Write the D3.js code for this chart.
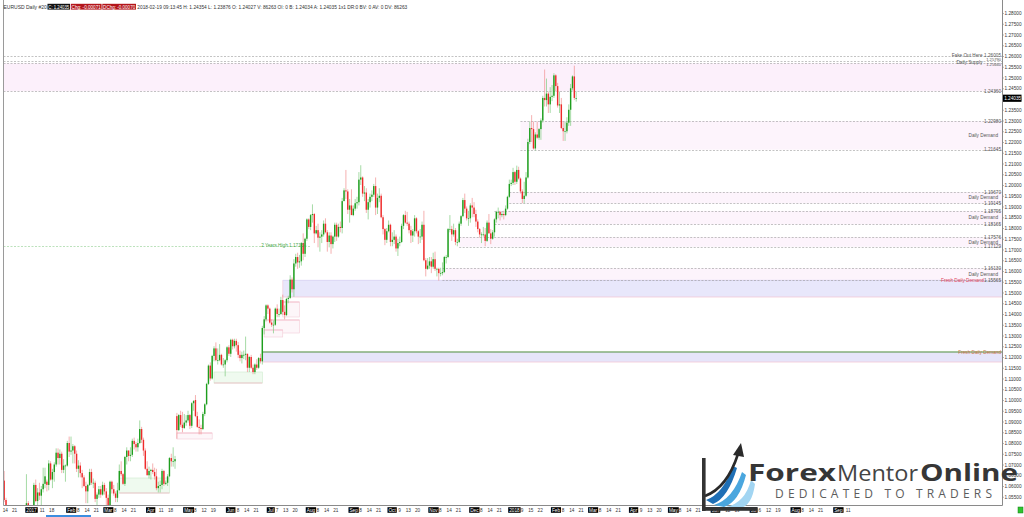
<!DOCTYPE html>
<html><head><meta charset="utf-8">
<script src="https://cdn.jsdelivr.net/npm/d3@7"></script>
<style>html,body{margin:0;padding:0;background:#fff;overflow:hidden}svg{display:block;font-family:"Liberation Sans",Arial,sans-serif}</style>
</head><body><svg id="c" width="1024" height="517"></svg>
<script>
// ---------- DATA ----------
const firstBarDate = "2016-12-13"; // daily bars, weekdays
const opens = [
1.0630,1.0625,1.0535,1.0410,1.0450,1.0400,1.0385,1.0425,1.0435,1.0455,1.0455,1.0450,1.0410,1.0490,
1.0520,1.0460,1.0400,1.0485,1.0605,1.0530,1.0570,1.0555,1.0585,1.0610,1.0620,1.0605,1.0705,1.0630,1.0665,1.0700,1.0755,1.0730,1.0750,1.0675,1.0695,1.0695,
1.0800,1.0760,1.0765,1.0785,1.0750,1.0680,1.0695,1.0660,1.0640,1.0600,1.0575,1.0605,1.0665,1.0615,1.0615,1.0540,1.0560,1.0585,1.0560,1.0605,
1.0575,1.0545,1.0505,1.0620,1.0585,1.0565,1.0545,1.0580,1.0670,1.0655,1.0610,1.0735,1.0765,1.0740,1.0745,1.0810,1.0795,1.0780,1.0800,1.0865,1.0815,1.0765,1.0680,
1.0650,1.0670,1.0675,1.0665,1.0645,1.0590,1.0600,1.0605,1.0670,1.0610,1.0615,1.0645,1.0730,1.0715,1.0715,1.0925,1.0860,1.0930,1.0885,1.0870,
1.0895,1.0905,1.0930,1.0880,1.0985,1.1000,1.0925,1.0875,1.0870,1.0865,1.0935,1.0980,1.1075,1.1160,1.1100,1.1205,1.1240,1.1185,1.1185,1.1210,1.1165,1.1165,1.1185,
1.1245,1.1215,1.1280,1.1250,1.1275,1.1255,1.1210,1.1195,1.1210,1.1210,1.1215,1.1150,1.1200,1.1150,1.1130,1.1165,1.1150,1.1195,1.1180,1.1335,1.1375,1.1440,
1.1425,1.1360,1.1350,1.1350,1.1425,1.1400,1.1400,1.1465,1.1410,1.1395,1.1470,1.1475,1.1560,1.1515,1.1635,1.1665,1.1640,1.1645,1.1730,1.1680,1.1750,
1.1840,1.1805,1.1860,1.1865,1.1775,1.1790,1.1755,1.1760,1.1770,1.1820,1.1780,1.1735,1.1765,1.1725,1.1760,1.1815,1.1760,1.1805,1.1800,1.1925,1.1975,1.1970,1.1885,
1.1905,1.1860,1.1890,1.1915,1.1920,1.2025,1.2035,1.1960,1.1965,1.1885,1.1920,1.1945,1.1955,1.1995,1.1895,1.1940,1.1950,1.1850,1.1795,1.1745,1.1785,
1.1815,1.1735,1.1745,1.1760,1.1705,1.1730,1.1735,1.1810,1.1860,1.1825,1.1820,1.1790,1.1765,1.1785,1.1845,1.1785,1.1760,1.1760,1.1815,1.1650,1.1610,1.1625,
1.1645,1.1620,1.1655,1.1610,1.1610,1.1590,1.1590,1.1595,1.1665,1.1665,1.1795,1.1795,1.1770,1.1790,1.1735,1.1735,1.1820,1.1855,1.1930,1.1890,1.1845,1.1845,
1.1905,1.1895,1.1865,1.1830,1.1795,1.1770,1.1770,1.1770,1.1740,1.1825,1.1775,1.1750,1.1780,1.1840,1.1875,1.1875,1.1860,1.1865,1.1860,1.1890,1.1945,
1.2005,1.2010,1.2060,1.2015,1.2070,1.2030,1.1970,1.1935,1.1950,1.2035,1.2200,1.2265,1.2260,1.2170,1.2235,1.2220,1.2260,1.2300,1.2405,1.2395,1.2425,1.2375,1.2410,
1.2415,1.2510,1.2460,1.2370,1.2375,1.2265,1.2250,1.2250,1.2290,1.2350,1.2450,1.2505,1.24027];
const highs = [
1.0650,1.0670,1.0545,1.0470,1.0460,1.0420,1.0440,1.0455,1.0465,1.0460,1.0470,1.0475,1.0500,1.0655,
1.0530,1.0485,1.0495,1.0615,1.0630,1.0590,1.0615,1.0600,1.0685,1.0685,1.0630,1.0720,1.0715,1.0680,1.0710,1.0775,1.0775,1.0770,1.0760,1.0725,1.0700,1.0810,
1.0830,1.0830,1.0795,1.0790,1.0765,1.0720,1.0710,1.0675,1.0650,1.0620,1.0610,1.0680,1.0680,1.0635,1.0625,1.0570,1.0600,1.0600,1.0620,1.0615,
1.0590,1.0560,1.0625,1.0625,1.0605,1.0575,1.0615,1.0700,1.0715,1.0660,1.0740,1.0780,1.0765,1.0780,1.0820,1.0825,1.0805,1.0820,1.0905,1.0875,1.0825,1.0775,1.0715,
1.0690,1.0680,1.0705,1.0685,1.0680,1.0620,1.0625,1.0680,1.0675,1.0625,1.0655,1.0735,1.0750,1.0780,1.0740,1.0940,1.0935,1.0950,1.0945,1.0935,
1.0930,1.0950,1.0935,1.0990,1.1000,1.1023,1.0945,1.0910,1.0885,1.0945,1.0985,1.1080,1.1165,1.1175,1.1210,1.1250,1.1268,1.1240,1.1260,1.1215,1.1195,1.1190,1.1250,
1.1255,1.1285,1.1285,1.1285,1.1285,1.1270,1.1230,1.1225,1.1230,1.1295,1.1215,1.1205,1.1210,1.1165,1.1170,1.1190,1.1200,1.1215,1.1345,1.1390,1.1445,1.1445,
1.1430,1.1375,1.1370,1.1430,1.1445,1.1425,1.1480,1.1490,1.1440,1.1475,1.1485,1.1580,1.1570,1.1655,1.1680,1.1685,1.1675,1.1735,1.1775,1.1755,1.1845,
1.1845,1.1865,1.1910,1.1870,1.1810,1.1820,1.1780,1.1790,1.1835,1.1845,1.1790,1.1780,1.1780,1.1765,1.1825,1.1825,1.1820,1.1830,1.1940,1.1985,1.2070,1.1980,1.1935,
1.1980,1.1905,1.1935,1.1945,1.2060,1.2092,1.2040,1.1995,1.1985,1.1935,1.1960,1.1975,1.2005,1.2035,1.1960,1.1985,1.1960,1.1860,1.1800,1.1800,1.1835,
1.1820,1.1780,1.1790,1.1770,1.1750,1.1760,1.1820,1.1865,1.1880,1.1875,1.1830,1.1810,1.1795,1.1860,1.1850,1.1790,1.1795,1.1830,1.1880,1.1660,1.1660,1.1665,
1.1665,1.1685,1.1690,1.1615,1.1615,1.1615,1.1640,1.1670,1.1675,1.1800,1.1860,1.1810,1.1820,1.1800,1.1750,1.1830,1.1860,1.1940,1.1960,1.1900,1.1880,1.1915,
1.1940,1.1920,1.1885,1.1840,1.1800,1.1780,1.1805,1.1800,1.1835,1.1865,1.1795,1.1790,1.1845,1.1880,1.1895,1.1880,1.1875,1.1880,1.1905,1.1950,1.2025,
1.2025,1.2080,1.2065,1.2090,1.2085,1.2035,1.1980,1.2015,1.2060,1.2215,1.2295,1.2325,1.2295,1.2245,1.2295,1.2265,1.2310,1.2415,1.2537,1.2495,1.2435,1.2455,1.2465,
1.2520,1.2515,1.2475,1.2435,1.2405,1.2295,1.2295,1.2315,1.2375,1.2470,1.2510,1.2555,1.24354];
const lows = [
1.0600,1.0525,1.0365,1.0400,1.0390,1.0352,1.0380,1.0410,1.0430,1.0440,1.0430,1.0405,1.0405,1.0450,
1.0455,1.0340,1.0390,1.0480,1.0525,1.0510,1.0535,1.0455,1.0570,1.0590,1.0575,1.0580,1.0625,1.0590,1.0620,1.0690,1.0700,1.0700,1.0660,1.0660,1.0620,1.0690,
1.0735,1.0745,1.0705,1.0705,1.0665,1.0640,1.0640,1.0590,1.0595,1.0520,1.0520,1.0600,1.0605,1.0590,1.0525,1.0495,1.0545,1.0545,1.0555,1.0560,
1.0495,1.0495,1.0500,1.0565,1.0555,1.0525,1.0525,1.0580,1.0645,1.0605,1.0600,1.0700,1.0715,1.0715,1.0735,1.0770,1.0760,1.0760,1.0795,1.0800,1.0740,1.0675,1.0650,
1.0635,1.0630,1.0655,1.0630,1.0580,1.0570,1.0570,1.0585,1.0600,1.0605,1.0600,1.0640,1.0690,1.0690,1.0680,1.0820,1.0855,1.0875,1.0850,1.0865,
1.0880,1.0895,1.0865,1.0870,1.0950,1.0920,1.0870,1.0840,1.0840,1.0860,1.0925,1.0975,1.1070,1.1090,1.1095,1.1180,1.1180,1.1165,1.1180,1.1160,1.1150,1.1110,1.1175,
1.1205,1.1200,1.1235,1.1240,1.1225,1.1195,1.1180,1.1170,1.1190,1.1185,1.1130,1.1130,1.1145,1.1120,1.1120,1.1140,1.1145,1.1170,1.1165,1.1305,1.1365,1.1400,
1.1355,1.1340,1.1310,1.1345,1.1385,1.1385,1.1395,1.1395,1.1375,1.1390,1.1450,1.1470,1.1500,1.1480,1.1620,1.1610,1.1615,1.1625,1.1650,1.1665,1.1740,
1.1795,1.1790,1.1825,1.1730,1.1770,1.1710,1.1690,1.1730,1.1760,1.1775,1.1690,1.1710,1.1680,1.1705,1.1735,1.1740,1.1755,1.1780,1.1775,1.1925,1.1935,1.1865,1.1825,
1.1860,1.1855,1.1880,1.1890,1.1905,1.2000,1.1945,1.1925,1.1870,1.1840,1.1895,1.1925,1.1945,1.1860,1.1865,1.1920,1.1845,1.1770,1.1720,1.1730,1.1780,
1.1715,1.1715,1.1725,1.1690,1.1670,1.1715,1.1730,1.1795,1.1820,1.1810,1.1775,1.1730,1.1735,1.1760,1.1775,1.1725,1.1730,1.1745,1.1645,1.1575,1.1605,1.1610,
1.1590,1.1610,1.1600,1.1575,1.1555,1.1575,1.1580,1.1590,1.1635,1.1660,1.1780,1.1740,1.1760,1.1720,1.1715,1.1730,1.1810,1.1850,1.1870,1.1835,1.1810,1.1825,
1.1850,1.1850,1.1805,1.1780,1.1755,1.1730,1.1760,1.1715,1.1735,1.1775,1.1725,1.1745,1.1760,1.1825,1.1845,1.1835,1.1850,1.1840,1.1855,1.1885,1.1940,
1.1995,1.2000,1.2000,1.2005,1.2025,1.1960,1.1915,1.1915,1.1945,1.2030,1.2190,1.2200,1.2165,1.2160,1.2215,1.2210,1.2210,1.2290,1.2365,1.2365,1.2335,1.2335,1.2390,
1.2405,1.2435,1.2360,1.2335,1.2260,1.2205,1.2205,1.2240,1.2275,1.2275,1.2440,1.2395,1.23876];
const closes = [
1.0625,1.0535,1.0410,1.0450,1.0400,1.0385,1.0425,1.0435,1.0455,1.0455,1.0450,1.0410,1.0490,1.0520,
1.0460,1.0400,1.0485,1.0605,1.0530,1.0570,1.0555,1.0585,1.0610,1.0645,1.0605,1.0705,1.0630,1.0665,1.0700,1.0755,1.0730,1.0750,1.0675,1.0695,1.0695,1.0800,
1.0760,1.0765,1.0785,1.0750,1.0680,1.0695,1.0660,1.0640,1.0600,1.0575,1.0605,1.0665,1.0615,1.0615,1.0540,1.0560,1.0585,1.0560,1.0605,1.0575,
1.0545,1.0505,1.0620,1.0585,1.0565,1.0545,1.0580,1.0670,1.0655,1.0610,1.0735,1.0765,1.0740,1.0745,1.0810,1.0795,1.0780,1.0800,1.0865,1.0815,1.0765,1.0680,1.0650,
1.0670,1.0675,1.0665,1.0645,1.0590,1.0600,1.0605,1.0670,1.0610,1.0615,1.0645,1.0730,1.0715,1.0715,1.0725,1.0860,1.0930,1.0885,1.0870,1.0895,
1.0905,1.0930,1.0880,1.0985,1.0995,1.0925,1.0875,1.0870,1.0865,1.0935,1.0980,1.1075,1.1160,1.1100,1.1205,1.1240,1.1185,1.1185,1.1210,1.1165,1.1165,1.1185,1.1245,
1.1215,1.1280,1.1250,1.1275,1.1255,1.1210,1.1195,1.1210,1.1210,1.1215,1.1150,1.1200,1.1150,1.1130,1.1165,1.1150,1.1195,1.1180,1.1335,1.1375,1.1440,1.1425,
1.1360,1.1350,1.1350,1.1425,1.1400,1.1400,1.1465,1.1410,1.1395,1.1470,1.1475,1.1560,1.1515,1.1635,1.1665,1.1640,1.1645,1.1730,1.1680,1.1750,1.1840,
1.1805,1.1860,1.1865,1.1775,1.1790,1.1755,1.1760,1.1770,1.1820,1.1780,1.1735,1.1765,1.1725,1.1760,1.1815,1.1760,1.1805,1.1800,1.1925,1.1975,1.1970,1.1885,1.1905,
1.1860,1.1890,1.1915,1.1920,1.2025,1.2035,1.1960,1.1965,1.1885,1.1920,1.1945,1.1955,1.1995,1.1895,1.1940,1.1950,1.1850,1.1795,1.1745,1.1785,1.1815,
1.1735,1.1745,1.1760,1.1705,1.1730,1.1735,1.1810,1.1860,1.1825,1.1820,1.1790,1.1765,1.1785,1.1845,1.1785,1.1760,1.1760,1.1815,1.1650,1.1610,1.1625,1.1645,
1.1620,1.1655,1.1610,1.1610,1.1590,1.1590,1.1595,1.1665,1.1665,1.1795,1.1795,1.1770,1.1790,1.1735,1.1735,1.1820,1.1855,1.1930,1.1890,1.1845,1.1845,1.1905,
1.1895,1.1865,1.1830,1.1795,1.1770,1.1770,1.1770,1.1740,1.1825,1.1775,1.1750,1.1780,1.1840,1.1875,1.1875,1.1860,1.1865,1.1860,1.1890,1.1945,1.2005,
1.2010,1.2060,1.2015,1.2070,1.2030,1.1970,1.1935,1.1950,1.2035,1.2200,1.2265,1.2260,1.2170,1.2235,1.2220,1.2260,1.2300,1.2405,1.2395,1.2425,1.2375,1.2410,1.2415,
1.2510,1.2460,1.2370,1.2375,1.2265,1.2250,1.2250,1.2290,1.2350,1.2450,1.2505,1.2405,1.24035];

const priceTickLabels = ["1.28000","1.27500","1.27000","1.26500","1.26000","1.25500","1.25000","1.24500","1.24000","1.23500","1.23000","1.22500","1.22000","1.21500","1.21000","1.20500","1.20000","1.19500","1.19000","1.18500","1.18000","1.17500","1.17000","1.16500","1.16000","1.15500","1.15000","1.14500","1.14000","1.13500","1.13000","1.12500","1.12000","1.11500","1.11000","1.10500","1.10000","1.09500","1.09000","1.08500","1.08000","1.07500","1.07000","1.06500","1.06000","1.05500"];

const dateTicks = [
["2016-12-14","14"],["2016-12-21","21"],["2017-01-02","2017"],["2017-01-11","11"],["2017-01-18","18"],
["2017-02-01","Feb"],["2017-02-08","8"],["2017-02-14","14"],["2017-02-21","21"],
["2017-03-01","Mar"],["2017-03-08","8"],["2017-03-14","14"],["2017-03-21","21"],
["2017-04-03","Apr"],["2017-04-11","11"],["2017-04-18","18"],
["2017-05-01","May"],["2017-05-08","8"],["2017-05-12","12"],["2017-05-19","19"],
["2017-06-01","Jun"],["2017-06-08","8"],["2017-06-14","14"],["2017-06-21","21"],
["2017-07-03","Jul"],["2017-07-07","7"],["2017-07-13","13"],["2017-07-20","20"],
["2017-08-01","Aug"],["2017-08-08","8"],["2017-08-14","14"],["2017-08-21","21"],
["2017-09-01","Sep"],["2017-09-08","8"],["2017-09-14","14"],["2017-09-21","21"],
["2017-10-02","Oct"],["2017-10-09","9"],["2017-10-13","13"],["2017-10-20","20"],
["2017-11-01","Nov"],["2017-11-08","8"],["2017-11-14","14"],["2017-11-21","21"],
["2017-12-01","Dec"],["2017-12-08","8"],["2017-12-14","14"],["2017-12-21","21"],
["2018-01-01","2018"],["2018-01-09","9"],["2018-01-15","15"],["2018-01-22","22"],
["2018-02-01","Feb"],["2018-02-08","8"],["2018-02-14","14"],["2018-02-21","21"],
["2018-03-01","Mar"],["2018-03-08","8"],["2018-03-14","14"],["2018-03-21","21"],
["2018-04-02","Apr"],["2018-04-09","9"],["2018-04-13","13"],["2018-04-20","20"],
["2018-05-01","May"],["2018-05-08","8"],["2018-05-14","14"],["2018-05-21","21"],
["2018-06-01","Jun"],["2018-06-06","6"],["2018-06-12","12"],["2018-06-19","19"],
["2018-07-02","Jul"],["2018-07-06","6"],["2018-07-12","12"],["2018-07-19","19"],
["2018-08-01","Aug"],["2018-08-08","8"],["2018-08-14","14"],["2018-08-21","21"],
["2018-09-03","Sep"],["2018-09-11","11"]];

// dashed level lines: price, start date (null = whole chart)
const levelPrices = [1.26005,1.25790,1.25660,1.24360,1.22980,1.21645,1.19670,1.19145,1.18795,1.18165,1.17576,1.17129,1.16130,1.15565];
const levelStarts = [null,null,null,null,"2018-01-08","2018-01-08","2017-12-29","2017-12-29","2017-12-19","2017-12-19","2017-11-22","2017-11-22","2017-11-09","2017-11-09"];
// zones: top, bottom, start date, kind
const zoneTops    = [1.25660,1.22980,1.19670,1.18795,1.17576,1.16130,1.15565,1.12233];
const zoneBottoms = [1.24360,1.21645,1.19145,1.18165,1.17129,1.15565,1.14791,1.11767];
const zoneStarts  = [null,"2018-01-08","2017-12-29","2017-12-19","2017-11-22","2017-11-09","2017-07-12","2017-06-27"];
const zoneKinds   = ["supply","demand","demand","demand","demand","demand","fresh","fresh2"];
// zone / level names
const nameTexts  = ["Fake Out Here","Daily Supply","Daily Demand","Daily Demand","Daily Demand","Daily Demand","Daily Demand","Fresh Daily Demand","Fresh Daily Demand"];
const namePrices = [1.26005,1.25725,1.22313,1.19408,1.18480,1.17353,1.15848,1.15565,1.12233];
const nameKinds  = ["line","line","zone","zone","zone","zone","zone","fresh","fresh2"];
// small older boxes: top, bottom, from, to, kind
const boxTops    = [1.11302,1.08465,1.06372,1.14558,1.13721,1.13256];
const boxBottoms = [1.10790,1.08186,1.05674,1.13861,1.13116,1.12930];
const boxFrom    = ["2017-05-22","2017-04-24","2017-03-10","2017-07-12","2017-06-28","2017-06-28"];
const boxTo      = ["2017-06-27","2017-05-19","2017-04-18","2017-07-25","2017-07-25","2017-07-12"];
const boxKinds   = ["green","pink","green","pink","pink","pink"];
const twoYearHigh = 1.17164, twoYearHighEnd = "2017-08-02";
const header = {symbol:"EURUSD  Daily  #20", c:"C: 1.24035", chg:"Chg: -0.00071", dchg:"DChg: -0.00070",
  rest:"2018-02-19 09:13:45  H: 1.24354  L: 1.23876  O: 1.24027  V: 86263  OI: 0  B: 1.24034  A: 1.24035  1x1  DR:0  BV: 0  AV: 0  DV: 86263"};
const lastPrice = 1.24035;

// ---------- SETUP ----------
const svg = d3.select("#c");
const L = 3.5, R = 1002.5, B = 505.5;
const parse = d3.utcParse("%Y-%m-%d"), fmt = d3.utcFormat("%Y-%m-%d");
const calendar = [];
for (let d = parse(firstBarDate); calendar.length < 480; d = d3.utcDay.offset(d, 1)) {
  const wd = d.getUTCDay(); if (wd !== 0 && wd !== 6) calendar.push(fmt(d));
}
const idx = new Map(calendar.map((d, i) => [d, i]));
const x = d3.scaleLinear().domain([14, 309]).range([28.3, 576.2]);
const y = d3.scaleLinear().domain([1.055, 1.28]).range([496.75, 13]);
const xd = d => d == null ? L : x(idx.get(d));

svg.append("defs").append("clipPath").attr("id","clip").append("rect")
  .attr("x",L).attr("y",0).attr("width",R-L).attr("height",B);
const plot = svg.append("g").attr("clip-path","url(#clip)");

// zones
const zoneFill = {supply:"#fcf0fb",demand:"#fdf4fc",fresh:"#e8e7fb",fresh2:"#e6e5fa"};
zoneTops.forEach((t,i)=>{
  plot.append("rect").attr("x",xd(zoneStarts[i])).attr("width",R-xd(zoneStarts[i]))
    .attr("y",y(t)).attr("height",y(zoneBottoms[i])-y(t)).attr("fill",zoneFill[zoneKinds[i]]);
  if (zoneKinds[i]==="fresh"||zoneKinds[i]==="fresh2"){
    plot.append("line").attr("x1",xd(zoneStarts[i])).attr("x2",R).attr("y1",y(zoneBottoms[i])).attr("y2",y(zoneBottoms[i]))
      .attr("stroke","#f2c6d6").attr("stroke-width",0.8);
    plot.append("line").attr("x1",xd(zoneStarts[i])).attr("x2",xd(zoneStarts[i])).attr("y1",y(t)).attr("y2",y(zoneBottoms[i]))
      .attr("stroke","#f2c6d6").attr("stroke-width",0.6);
  }
});
// small boxes
boxTops.forEach((t,i)=>{
  const g = boxKinds[i]==="green";
  plot.append("rect").attr("x",xd(boxFrom[i])).attr("width",xd(boxTo[i])-xd(boxFrom[i]))
    .attr("y",y(t)).attr("height",y(boxBottoms[i])-y(t))
    .attr("fill",g?"#effaef":"#fdf6f9").attr("stroke",g?"#cdeccd":"#f3cdd8").attr("stroke-width",0.6);
  plot.append("line").attr("x1",xd(boxFrom[i])).attr("x2",xd(boxTo[i])).attr("y1",y(g?boxBottoms[i]:t)).attr("y2",y(g?boxBottoms[i]:t))
    .attr("stroke","#f0b0c0").attr("stroke-width",0.7);
});
// fresh zone top lines
plot.append("line").attr("x1",xd(zoneStarts[7])).attr("x2",R).attr("y1",y(zoneTops[7])).attr("y2",y(zoneTops[7]))
  .attr("stroke","#4c8c3c").attr("stroke-width",1);
plot.append("line").attr("x1",xd(zoneStarts[6])).attr("x2",R).attr("y1",y(zoneTops[6])).attr("y2",y(zoneTops[6]))
  .attr("stroke","#d6d0f2").attr("stroke-width",0.8);

// dashed levels
levelPrices.forEach((p,i)=>{
  plot.append("line").attr("x1",xd(levelStarts[i])).attr("x2",R).attr("y1",Math.round(y(p))+0.5).attr("y2",Math.round(y(p))+0.5)
    .attr("stroke","#9a9a9a").attr("stroke-width",0.6).attr("stroke-dasharray","2,1.5");
});
// 2 years high
plot.append("line").attr("x1",L).attr("x2",xd(twoYearHighEnd)).attr("y1",Math.round(y(twoYearHigh))+0.5).attr("y2",Math.round(y(twoYearHigh))+0.5)
  .attr("stroke","#8fcf8f").attr("stroke-width",0.6).attr("stroke-dasharray","2,1.5");

// candles
const bars = d3.range(opens.length);
const up = i => closes[i] >= opens[i];
plot.selectAll("line.wick").data(bars).join("line").attr("class","wick")
  .attr("x1",i=>x(i)).attr("x2",i=>x(i)).attr("y1",i=>y(highs[i])).attr("y2",i=>y(lows[i]))
  .attr("stroke",i=>up(i)?"#7fcc7f":"#f08f8f").attr("stroke-width",0.7);
plot.selectAll("rect.body").data(bars).join("rect").attr("class","body")
  .attr("x",i=>x(i)-0.7).attr("width",1.4)
  .attr("y",i=>y(Math.max(opens[i],closes[i])))
  .attr("height",i=>Math.max(0.7,Math.abs(y(opens[i])-y(closes[i]))))
  .attr("fill",i=>up(i)?"#1e9e1e":"#ee2b2b");

// labels
const small = 4.7;
// nudge for the two stacked supply prices so they stay readable
const priceNudge = {1.25790:-0.9, 1.25660:0.9};
levelPrices.forEach(p=>{
  svg.append("text").attr("x",1001).attr("y",y(p)+1.6+(priceNudge[p]||0)).attr("text-anchor","end")
    .attr("font-size",(p===1.25790||p===1.25660)?4.1:small).attr("fill","#555").text(p.toFixed(5));
});
const nameColor = {line:"#555",zone:"#555",fresh:"#e0405a",fresh2:"#cc7048"};
const nameEnd = {line:982.5,zone:998,fresh:983.8,fresh2:1001};
nameTexts.forEach((t,i)=>{
  svg.append("text").attr("x",nameEnd[nameKinds[i]]).attr("y",y(namePrices[i])+1.6).attr("text-anchor","end")
    .attr("font-size",small).attr("fill",nameColor[nameKinds[i]]).text(t);
});
svg.append("text").attr("x",306).attr("y",y(twoYearHigh)+0.6).attr("text-anchor","end")
  .attr("font-size",small).attr("fill","#4aa84a").text("2 Years High  " + twoYearHigh.toFixed(5));

// frame
svg.append("line").attr("x1",L).attr("x2",L).attr("y1",0).attr("y2",B).attr("stroke","#9a9a9a").attr("stroke-width",1);
svg.append("line").attr("x1",R).attr("x2",R).attr("y1",0).attr("y2",B).attr("stroke","#8a8a8a").attr("stroke-width",1);
svg.append("line").attr("x1",L).attr("x2",R).attr("y1",B).attr("y2",B).attr("stroke","#8a8a8a").attr("stroke-width",1);

// right price axis
const yAxis = d3.axisRight(y).tickValues(priceTickLabels.map(Number)).tickFormat((d,i)=>priceTickLabels[i]).tickSize(1.5).tickPadding(0.6);
const ga = svg.append("g").attr("transform",`translate(${R},0)`).call(yAxis);
ga.select(".domain").remove();
ga.selectAll("line").attr("stroke","#888").attr("stroke-width",0.6);
ga.selectAll("text").attr("font-size",small).attr("fill","#333").attr("font-family","Liberation Sans, Arial, sans-serif");
// current price box
svg.append("rect").attr("x",1003).attr("y",y(lastPrice)-3.6).attr("width",18.5).attr("height",7.2).attr("fill","#000");
svg.append("text").attr("x",1004.2).attr("y",y(lastPrice)+1.7).attr("font-size",small).attr("fill","#fff").text(lastPrice.toFixed(5));

// bottom date axis
const gd = svg.append("g");
dateTicks.forEach(([d,lab])=>{
  const px = x(idx.get(d));
  const isMonth = isNaN(+lab) || lab.length === 4;
  if (isMonth){
    const t = gd.append("text").attr("x",px-2).attr("y",512).attr("font-size",small).attr("fill","#fff").text(lab);
    const w = t.node().getComputedTextLength();
    gd.insert("rect","text").attr("x",px-3).attr("y",507.2).attr("width",w+2).attr("height",5.6).attr("fill","#000");
  } else {
    gd.append("text").attr("x",px-1.5).attr("y",512).attr("font-size",small).attr("fill","#333").text(lab);
  }
});
// bottom strip
svg.append("rect").attr("x",46).attr("y",515).attr("width",45).attr("height",2).attr("fill","#3d8ee0");
svg.append("rect").attr("x",1018).attr("y",507).attr("width",5).attr("height",6).attr("fill","#2fc42f").attr("stroke","#1a7a1a").attr("stroke-width",0.5);

// header
const hd = svg.append("g").attr("font-size",5);
hd.append("text").attr("x",3.5).attr("y",8.7).attr("fill","#333").text(header.symbol);
[[47.5,22.5,"#111",header.c],[70.8,30.8,"#b3141a",header.chg],[102.3,33.7,"#b3141a",header.dchg]].forEach(([bx,bw,col,t])=>{
  hd.append("rect").attr("x",bx).attr("y",3.8).attr("width",bw).attr("height",5.8).attr("fill",col);
  hd.append("text").attr("x",bx+0.8).attr("y",8.6).attr("fill","#fff").attr("textLength",bw-1.6).attr("lengthAdjust","spacingAndGlyphs").text(t);
});
hd.append("text").attr("x",137.3).attr("y",8.7).attr("fill","#333").attr("textLength",270).attr("lengthAdjust","spacingAndGlyphs").text(header.rest);

// logo
const lg = svg.append("g");
lg.append("path").attr("d","M706,500 Q723,494 733,466 L737,468 Q728,498 713,504 Z").attr("fill","#1f6fb5");
lg.append("path").attr("d","M714,505 Q733,499 742,472 L746,475 Q739,502 724,507 Z").attr("fill","#4aa6de");
lg.append("path").attr("d","M726,507 Q745,503 751,480 L755,484 Q752,506 740,508 Z").attr("fill","#a2d5f2");
lg.append("path").attr("d","M705,496 Q727,488 738,454").attr("fill","none").attr("stroke","#2a2a2a").attr("stroke-width",2.6);
lg.append("path").attr("d","M733,455 L741,443 L744,457 Z").attr("fill","#2a2a2a");
lg.append("rect").attr("x",702).attr("y",458).attr("width",3.6).attr("height",53).attr("fill","#333");
lg.append("rect").attr("x",702).attr("y",507).attr("width",55).attr("height",3.8).attr("fill","#333");
const bigF = "Open Sans, Liberation Sans, sans-serif";
lg.append("text").attr("x",748).attr("y",481).attr("font-family",bigF).attr("font-weight",700).attr("font-size",22.5)
  .attr("fill","#363636").attr("textLength",88).attr("lengthAdjust","spacingAndGlyphs").text("Forex");
lg.append("text").attr("x",837).attr("y",481).attr("font-family",bigF).attr("font-weight",400).attr("font-size",22.5)
  .attr("fill","#444").attr("textLength",81).attr("lengthAdjust","spacingAndGlyphs").text("Mentor");
lg.append("text").attr("x",920).attr("y",481).attr("font-family",bigF).attr("font-weight",700).attr("font-size",22.5)
  .attr("fill","#363636").attr("textLength",98).attr("lengthAdjust","spacingAndGlyphs").text("Online");
lg.append("text").attr("x",775).attr("y",498).attr("font-family",bigF).attr("font-weight",400).attr("font-size",12)
  .attr("fill","#5c5c5c").attr("textLength",217).attr("lengthAdjust","spacing").text("DEDICATED TO TRADERS");
</script></body></html>
